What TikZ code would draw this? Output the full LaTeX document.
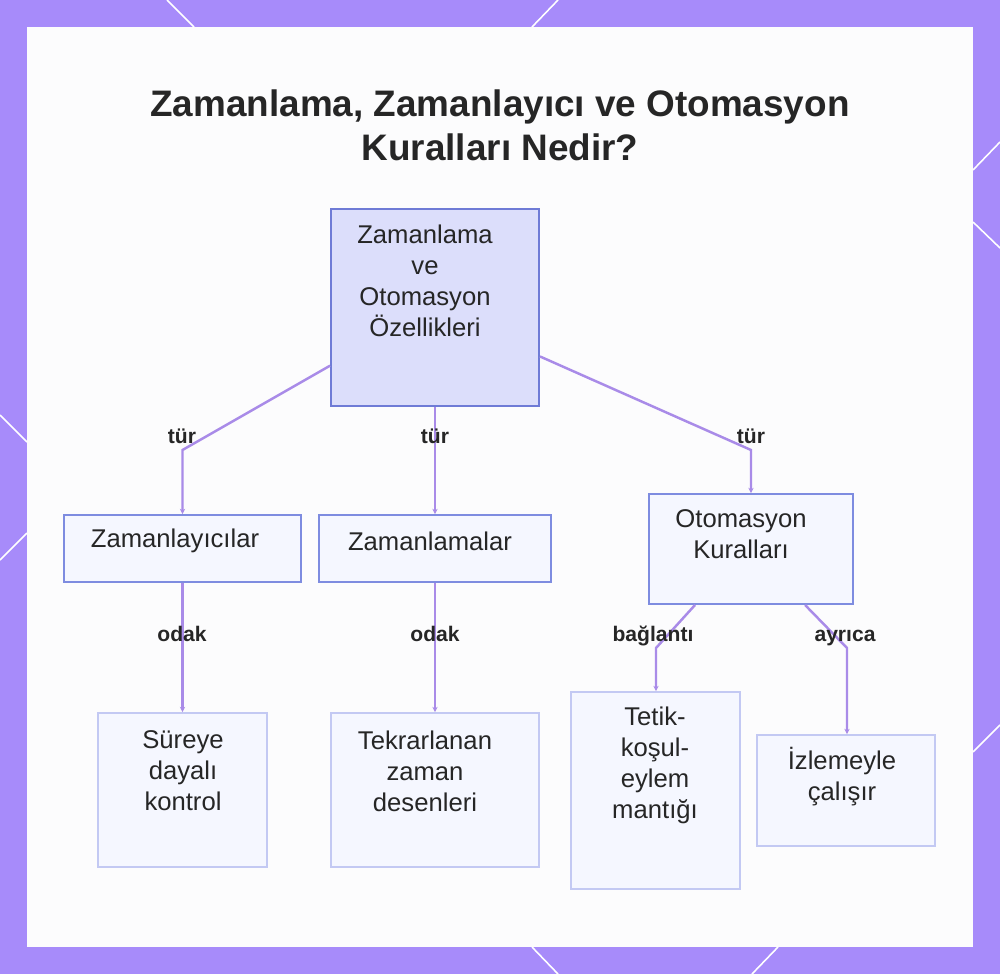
\documentclass[tikz,border=0pt]{standalone}
\usepackage{fontspec}
\setmainfont{Liberation Sans}
\usetikzlibrary{arrows.meta}

\definecolor{band}{HTML}{A78BFA}
\definecolor{panel}{HTML}{FCFCFD}
\definecolor{ink}{HTML}{262626}
\definecolor{rootfill}{HTML}{DCDEFB}
\definecolor{rootline}{HTML}{6F7BD6}
\definecolor{midfill}{HTML}{F5F7FF}
\definecolor{midline}{HTML}{7E8CE0}
\definecolor{leafline}{HTML}{C3C9F3}
\definecolor{linkcol}{HTML}{A98BE8}

\tikzset{
  rootbox/.style={draw=rootline, fill=rootfill, line width=1.1pt, inner sep=0pt},
  midbox/.style={draw=midline, fill=midfill, line width=1.1pt, inner sep=0pt},
  leafbox/.style={draw=leafline, fill=midfill, line width=1.1pt, inner sep=0pt},
  boxtext/.style={align=center, text=ink, inner sep=0pt, font=\fontsize{14.6}{17.6}\selectfont},
  link/.style={draw=linkcol, line width=1.4pt, -{Stealth[length=3pt,width=3pt]}},
  lbl/.style={text=ink, inner sep=0pt, text height=9pt, text depth=2.5pt,
    font=\fontsize{12}{14}\selectfont\bfseries},
  deco/.style={draw=white, line width=0.9pt}
}

\begin{document}
\begin{tikzpicture}[x=0.02cm,y=-0.02cm]
\useasboundingbox (0,0) rectangle (1000,974);
% frame
\fill[band] (0,0) rectangle (1000,974);
\fill[panel] (27,27) rectangle (973,947);
\draw[deco] (167,0) -- (194,27);
\draw[deco] (558,0) -- (532,27);
\draw[deco] (973,170) -- (1000,142);
\draw[deco] (973,222) -- (1000,248);
\draw[deco] (0,415) -- (27,442);
\draw[deco] (27,533) -- (0,560);
\draw[deco] (973,752) -- (1000,725);
\draw[deco] (532,947) -- (558,974);
\draw[deco] (778,947) -- (752,974);

% title
\node[align=center, text=ink, font=\fontsize{21}{25}\selectfont\bfseries] (title) at (500,125)
  {Zamanlama, Zamanlayıcı ve Otomasyon\\Kuralları Nedir?};

% boxes
\node[rootbox, minimum width=4.16cm, minimum height=3.94cm] (oz) at (435,307.5) {};
\node[boxtext] (oz-t) at (425,281) {Zamanlama\\ve\\Otomasyon\\Özellikleri};

\node[midbox, minimum width=4.74cm, minimum height=1.34cm] (zl) at (182.5,548.5) {};
\node[boxtext] (zl-t) at (175,541) {Zamanlayıcılar};
\node[midbox, minimum width=4.64cm, minimum height=1.34cm] (zm) at (435,548.5) {};
\node[boxtext] (zm-t) at (430,541) {Zamanlamalar};
\node[midbox, minimum width=4.08cm, minimum height=2.2cm] (ok) at (751,549) {};
\node[boxtext] (ok-t) at (741,534.5) {Otomasyon\\Kuralları};

\node[leafbox, minimum width=3.38cm, minimum height=3.08cm] (sd) at (182.5,790) {};
\node[boxtext] (sd-t) at (183,771) {Süreye\\dayalı\\kontrol};
\node[leafbox, minimum width=4.16cm, minimum height=3.08cm] (tz) at (435,790) {};
\node[boxtext] (tz-t) at (425,771) {Tekrarlanan\\zaman\\desenleri};
\node[leafbox, minimum width=3.38cm, minimum height=3.94cm] (te) at (655.5,790.5) {};
\node[boxtext] (te-t) at (655,765) {Tetik-\\koşul-\\eylem\\mantığı};
\node[leafbox, minimum width=3.56cm, minimum height=2.22cm] (iz) at (846,790.5) {};
\node[boxtext] (iz-t) at (842,776.5) {İzlemeyle\\çalışır};

% bends
\coordinate (k1) at (182.5,450);
\coordinate (k2) at (751,450);
\coordinate (k3) at (656,648);
\coordinate (k4) at (847,648);

% connectors
\draw[link] (oz.209) -- (k1) -- (zl.north);
\draw[link] (oz.south) -- (zm.north);
\draw[link] (oz.335.5) -- (k2) -- (ok.north);
\draw[link] (zl.south) -- (sd.north);
\draw[link] (zm.south) -- (tz.north);
\draw[link] (ok.225.5) -- (k3) -- (te.north -| k3);
\draw[link] (ok.314) -- (k4) -- (iz.north -| k4);

% labels
\node[lbl] (l1) at (182,438) {tür};
\node[lbl] (l2) at (435,438) {tür};
\node[lbl] (l3) at (751,438) {tür};
\node[lbl] (l4) at (182,636) {odak};
\node[lbl] (l5) at (435,636) {odak};
\node[lbl] (l6) at (653,636) {bağlantı};
\node[lbl] (l7) at (845,636) {ayrıca};
\end{tikzpicture}
\end{document}
